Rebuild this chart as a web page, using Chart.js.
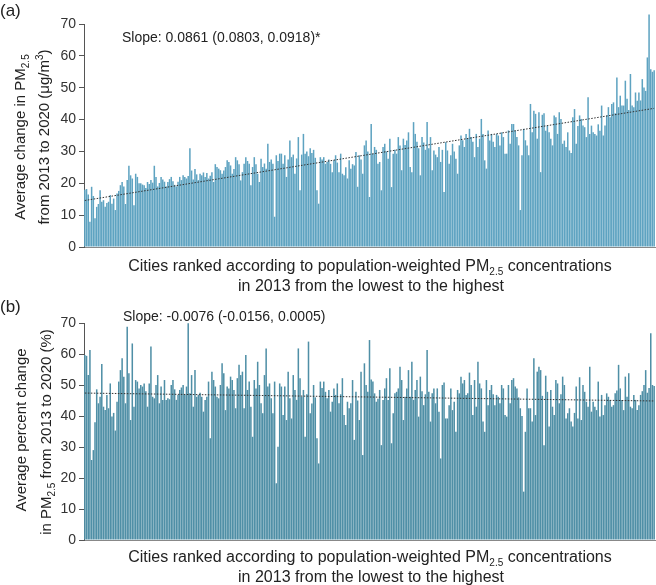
<!DOCTYPE html>
<html>
<head>
<meta charset="utf-8">
<script src="https://cdn.jsdelivr.net/npm/chart.js@4/dist/chart.umd.min.js"></script>
<style>
  body { margin: 0; background: #fff; }
  #wrap { position: relative; width: 656px; height: 585px; font-family: "Liberation Sans", Arial, sans-serif; color: #222; }
  canvas { position: absolute; left: 0; }
  .txt { position: absolute; white-space: nowrap; font-size: 15px; line-height: 1; }
  .rot { transform: translate(-50%, -50%) rotate(-90deg); }
  .ctr { transform: translate(-50%, -50%); font-size: 16px; }
  sub, sup { font-size: 10px; line-height: 0; }
</style>
</head>
<body>
<div id="wrap">
  <canvas id="chartA" width="656" height="295" style="top:0"></canvas>
  <canvas id="chartB" width="656" height="290" style="top:295px"></canvas>

  <div class="txt" style="left:0;top:2px;font-size:17px">(a)</div>
  <div class="txt" style="left:0;top:298px;font-size:17px">(b)</div>

  <div class="txt rot" style="left:19px;top:137px">Average change in PM<sub>2.5</sub></div>
  <div class="txt rot" style="left:43px;top:137px">from 2013 to 2020 (μg/m<sup>3</sup>)</div>
  <div class="txt rot" style="left:20px;top:430px">Average percent change</div>
  <div class="txt rot" style="left:45px;top:432px">in PM<sub>2.5</sub> from 2013 to 2020 (%)</div>

  <div class="txt ctr" style="left:370px;top:266px">Cities ranked according to population-weighted PM<sub>2.5</sub> concentrations</div>
  <div class="txt ctr" style="left:371px;top:286px">in 2013 from the lowest to the highest</div>
  <div class="txt ctr" style="left:370px;top:557px">Cities ranked according to population-weighted PM<sub>2.5</sub> concentrations</div>
  <div class="txt ctr" style="left:371px;top:577px">in 2013 from the lowest to the highest</div>

  <div class="txt" id="slopeA" style="left:122px;top:30px;font-size:14px"></div>
  <div class="txt" id="slopeB" style="left:123px;top:309px;font-size:14px"></div>
</div>
<script>
// (a) average change in PM2.5, µg/m3, cities ranked by 2013 level
const changeA = [
  18.0, 18.2, 16.5, 7.9, 18.9, 16.0, 9.0, 12.6, 13.5, 17.8,
  14.2, 14.7, 12.6, 13.8, 14.2, 16.3, 13.6, 15.2, 11.6, 16.8,
  17.6, 19.4, 20.4, 19.0, 13.5, 21.0, 25.5, 22.5, 21.5, 13.1,
  23.0, 22.0, 20.0, 20.0, 19.6, 19.4, 18.5, 20.4, 19.8, 21.0,
  20.2, 25.5, 22.0, 19.0, 20.1, 22.0, 21.2, 20.5, 19.0, 20.4,
  21.3, 22.0, 20.6, 19.5, 19.0, 20.5, 22.0, 21.0, 22.5, 22.0,
  21.5, 22.3, 31.0, 24.0, 21.2, 24.5, 22.8, 21.0, 23.0,
  22.5, 23.4, 22.0, 23.2, 21.5, 22.4, 23.5, 20.4, 26.0, 25.1,
  24.6, 24.1, 23.0, 24.0, 25.1, 27.2, 26.7, 25.6, 23.0, 24.5,
  28.2, 27.2, 26.0, 20.9, 23.5, 26.1, 28.2, 27.0, 26.1, 19.4,
  25.1, 28.2, 26.0, 23.0, 20.4, 27.7, 25.1, 26.2, 24.6, 32.4,
  26.7, 27.5, 26.1, 9.5, 28.8, 27.0, 29.3, 29.3, 26.1, 28.8,
  22.0, 27.5, 33.4, 28.2, 29.0, 23.0, 27.8, 34.5, 17.8, 29.0,
  35.5, 29.3, 30.0, 28.5, 31.0, 29.5, 30.5, 28.0,
  17.8, 13.6, 28.2, 27.5, 28.2, 26.1, 26.7, 27.5, 26.1, 23.5,
  27.2, 28.8, 26.5, 23.5, 29.3, 23.0, 22.5, 25.0, 21.5, 27.2,
  24.6, 26.0, 25.6, 29.8, 18.9, 28.8, 27.5, 23.0, 31.9, 33.4,
  30.0, 15.7, 38.6, 29.3, 31.4, 30.5, 26.1, 26.7, 17.8, 31.4,
  32.4, 30.0, 27.7, 34.0, 18.8, 29.3, 30.5, 29.3, 34.5, 31.9,
  24.1, 34.0, 32.0, 33.4, 36.0, 25.1, 23.5, 39.2, 35.5, 33.0,
  31.0, 22.5, 34.5, 32.8, 30.5, 39.2, 31.0, 34.5,
  24.1, 30.3, 29.0, 28.2, 31.4, 26.7, 30.5, 17.3, 32.9, 30.3,
  26.1, 28.8, 32.4, 30.0, 27.7, 23.0, 31.9, 35.0, 33.5, 31.4,
  35.5, 34.0, 37.1, 34.5, 33.0, 28.2, 35.5, 31.4, 34.0, 40.2,
  35.5, 27.2, 24.6, 36.6, 33.4, 35.5, 33.0, 31.4, 35.5, 35.0,
  31.9, 36.0, 34.5, 29.3, 29.3, 36.6, 32.4, 38.6, 38.6, 36.6,
  34.5, 31.9, 11.6, 28.8, 37.1, 33.5, 31.9, 28.8, 44.9, 36.0,
  42.8, 41.8, 34.0, 42.3, 23.5, 41.5, 42.0, 36.5,
  38.1, 36.0, 34.0, 31.9, 41.3, 40.7, 35.5, 42.3, 40.2, 32.4,
  33.4, 31.4, 36.0, 30.3, 29.5, 40.7, 43.3, 32.4, 38.0, 41.3,
  40.2, 38.1, 37.6, 34.5, 47.0, 35.5, 38.1, 36.0, 35.5, 35.0,
  38.5, 36.5, 44.4, 35.0, 38.1, 41.3, 43.9, 40.7, 44.9, 45.4,
  42.0, 53.2, 43.9, 47.5, 44.4, 44.4, 52.2, 46.5, 43.0, 54.3,
  44.4, 43.9, 48.5, 45.9, 48.5, 46.0, 52.7, 50.1, 49.0, 59.5,
  73.0, 55.8, 55.0, 55.5
]

// (b) average percent change in PM2.5, same city order
const changeB = [
  59.7, 59.4, 53.2, 61.3, 25.8, 29.0, 38.0, 48.6, 44.1, 46.2,
  56.8, 43.0, 41.9, 46.8, 42.5, 50.5, 39.8, 41.0, 35.3, 44.6,
  51.1, 54.8, 58.6, 52.7, 44.1, 68.8, 53.8, 38.7, 63.4, 43.0,
  51.6, 51.1, 48.9, 50.0, 49.5, 50.5, 48.0, 43.0, 50.5, 62.4,
  46.2, 45.7, 50.0, 53.2, 44.1, 49.5, 45.2, 51.6, 45.2, 45.7,
  45.4, 50.0, 51.6, 48.6, 45.2, 46.8, 48.4, 49.2, 50.0, 46.8,
  49.5, 69.9, 47.3, 53.2, 43.0, 54.8, 46.2, 46.8, 47.5,
  46.2, 41.4, 45.2, 46.2, 51.1, 32.8, 54.3, 51.6, 49.5, 46.2,
  45.7, 50.0, 57.0, 53.8, 41.9, 49.5, 48.9, 52.7, 51.6, 48.4,
  42.5, 52.2, 56.5, 53.2, 54.3, 42.5, 59.7, 48.4, 51.1, 43.0,
  33.3, 51.6, 48.9, 57.5, 50.0, 44.1, 40.9, 53.2, 61.8, 49.5,
  50.5, 45.7, 40.9, 51.1, 18.3, 30.1, 50.5, 49.5, 40.3, 49.5,
  38.7, 54.3, 45.7, 39.2, 53.2, 48.4, 45.2, 61.8, 52.2, 46.2,
  48.4, 33.3, 47.0, 64.0, 40.9, 44.0, 50.0, 46.0,
  32.8, 24.7, 51.1, 49.0, 51.1, 47.8, 45.7, 48.4, 41.4, 44.6,
  48.9, 46.8, 50.5, 44.1, 47.0, 52.2, 40.3, 37.1, 44.6, 42.5,
  44.1, 51.6, 32.3, 47.8, 45.0, 38.7, 54.3, 27.4, 57.0, 50.0,
  47.8, 64.5, 51.8, 51.1, 47.3, 44.6, 45.6, 48.4, 30.6, 45.2,
  48.9, 52.2, 45.2, 55.4, 31.2, 40.9, 47.3, 47.8, 48.9, 55.9,
  51.6, 38.7, 46.2, 48.9, 54.8, 46.2, 57.5, 45.2, 48.4, 51.6,
  39.8, 52.7, 48.0, 43.5, 47.0, 61.3, 47.8, 38.2,
  47.3, 48.9, 44.1, 48.9, 41.4, 26.3, 50.0, 50.8, 39.2, 39.2,
  43.5, 48.9, 41.9, 44.6, 34.9, 48.4, 47.3, 52.7, 50.5, 51.6,
  46.8, 47.3, 54.0, 50.0, 40.3, 51.6, 43.0, 57.5, 50.5, 48.9,
  38.2, 34.9, 51.6, 43.5, 48.4, 50.0, 47.0, 43.5, 46.8, 46.2,
  44.1, 50.0, 48.9, 40.3, 39.8, 50.0, 44.1, 51.6, 52.2, 49.5,
  48.9, 46.0, 42.5, 40.0, 15.6, 34.9, 48.9, 42.5, 42.5, 38.2,
  58.6, 40.3, 54.3, 55.9, 54.8, 46.5, 30.6, 53.0,
  47.8, 36.6, 48.4, 43.0, 40.3, 51.6, 50.5, 44.1, 47.0, 52.7,
  50.0, 39.2, 40.9, 42.5, 38.2, 36.6, 41.0, 49.5, 39.2, 52.5,
  38.7, 50.0, 47.8, 44.6, 43.0, 55.9, 41.4, 44.6, 43.0, 41.9,
  51.1, 39.8, 46.8, 40.3, 43.5, 47.3, 46.2, 45.2, 43.0, 43.5,
  47.3, 48.2, 56.5, 48.9, 45.2, 41.9, 52.7, 46.2, 53.8, 43.0,
  42.5, 46.8, 45.2, 41.9, 43.5, 46.8, 48.0, 50.0, 54.8, 47.5,
  49.0, 66.7, 50.0, 49.7
]

// fitted trend lines (value at first city, slope per rank)
const interceptA = 14.6
const slopeA = 0.0861
const interceptB = 47.4
const slopeB = -0.0076

const slopeTextA = "Slope: 0.0861 (0.0803, 0.0918)*"
const slopeTextB = "Slope: -0.0076 (-0.0156, 0.0005)"

const yTicks = [0, 10, 20, 30, 40, 50, 60, 70]

document.getElementById('slopeA').innerText = slopeTextA
document.getElementById('slopeB').innerText = slopeTextB

function makePanel(id, values, intercept, slope, fill, padTop, xHeight) {
    const labels = values.map((v, i) => String(i + 1))
    const last = labels.length - 1
    return new Chart(document.getElementById(id).getContext('2d'), {
        type: 'bar',
        data: {
            labels: labels,
            datasets: [{
                type: 'line',
                data: [
                    { x: labels[0], y: intercept },
                    { x: labels[last], y: intercept + slope * last }
                ],
                borderColor: '#333',
                borderWidth: 1,
                borderDash: [1.5, 1.5],
                pointRadius: 0,
                order: 0
            }, {
                data: values,
                backgroundColor: fill,
                borderWidth: 0,
                barPercentage: 0.9,
                categoryPercentage: 1,
                clip: false,
                order: 1
            }]
        },
        options: {
            responsive: false,
            animation: false,
            devicePixelRatio: 1,
            layout: { padding: { top: padTop, right: 1, left: 0, bottom: 0 } },
            plugins: { legend: { display: false }, tooltip: { enabled: false } },
            scales: {
                x: {
                    ticks: { display: false },
                    grid: { display: false, drawTicks: false },
                    border: { display: true, color: '#888', width: 1 },
                    afterFit: s => { s.height = xHeight }
                },
                y: {
                    min: 0,
                    max: 70,
                    afterBuildTicks: s => { s.ticks = yTicks.map(v => ({ value: v })) },
                    ticks: {
                        color: '#333',
                        padding: 3,
                        font: { family: 'Liberation Sans', size: 14 }
                    },
                    grid: { drawOnChartArea: false, drawTicks: true, tickLength: 5, color: '#555' },
                    border: { display: true, color: '#555', width: 1 },
                    afterFit: s => { s.width = 84 }
                }
            }
        }
    })
}

makePanel('chartA', changeA, interceptA, slopeA, '#5ea3c1', 24, 48)
makePanel('chartB', changeB, interceptB, slopeB, '#4f8fa6', 28, 45)
</script>
</body>
</html>
